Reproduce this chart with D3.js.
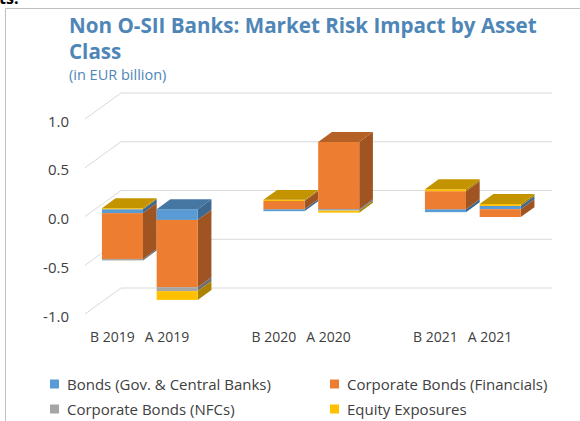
<!DOCTYPE html>
<html>
<head>
<meta charset="utf-8">
<script src="https://cdn.jsdelivr.net/npm/d3@7/dist/d3.min.js"></script>
<style>
  html, body { margin: 0; padding: 0; background: #fff; }
  svg { display: block; }
  text { font-family: "Open Sans", "Noto Sans", sans-serif; }
</style>
</head>
<body>
<svg id="chart" width="580" height="421"></svg>
<script>
// Data (EUR billion)
const groups = ["2019", "2020", "2021"];
const scenarios = ["B", "A"];
const categoryLabels = ["B 2019", "A 2019", "B 2020", "A 2020", "B 2021", "A 2021"];
const seriesNames = ["Bonds (Gov. & Central Banks)", "Corporate Bonds (Financials)",
                     "Corporate Bonds (NFCs)", "Equity Exposures"];
const seriesColors = ["#5B9BD5", "#ED7D31", "#A5A5A5", "#FFC000"];
const bondsGov   = [-0.04, -0.11, -0.02, -0.01, -0.03,  0.034];
const corpFin    = [-0.47, -0.69,  0.085, 0.69,  0.185, -0.08];
const corpNfc    = [-0.015,-0.04,  0.0,  -0.005, 0.0,   0.0];
const equity     = [ 0.01, -0.09,  0.012, -0.02, 0.02,  0.02];
const yTicks = [-1.0, -0.5, 0.0, 0.5, 1.0];
const yTickLabels = ["-1.0", "-0.5", "0.0", "0.5", "1.0"];

const svg = d3.select("#chart");

// frame lines
svg.append("line").attr("x1", 5.5).attr("x2", 580).attr("y1", 8.5).attr("y2", 8.5)
  .attr("stroke", "#bfbfbf");
svg.append("line").attr("x1", 5.5).attr("x2", 5.5).attr("y1", 8.5).attr("y2", 421)
  .attr("stroke", "#bfbfbf");
svg.append("text").attr("x", -1).attr("y", 4).attr("font-weight", "bold")
  .attr("font-size", 16).attr("fill", "#000").text("ts.");

// title
const titleColor = "#4F86B8";
svg.append("text").attr("x", 69).attr("y", 33).attr("font-size", 20.6)
  .attr("font-weight", "bold").attr("fill", titleColor)
  .text("Non O-SII Banks: Market Risk Impact by Asset");
svg.append("text").attr("x", 69).attr("y", 59).attr("font-size", 20.6)
  .attr("font-weight", "bold").attr("fill", titleColor).text("Class");
svg.append("text").attr("x", 69).attr("y", 80).attr("font-size", 14.5)
  .attr("fill", titleColor).text("(in EUR billion)");

// 3D projection: depth 0 = front plane, 1 = back wall
const depthDx = 36, depthDy = -26;
const barFront = 0.28, barDepth = 0.38;

const y = d3.scaleLinear().domain([-1, 1]).range([314, 119]);   // front plane
const x0 = d3.scaleBand().domain(groups).range([59, 543.5]);
const x1 = d3.scaleBand().domain(scenarios).range([0, x0.bandwidth()])
  .paddingInner(0.25).paddingOuter(0.6);
const plotLeft = 85, plotRight = 516;

// gridlines: side wall diagonal + back wall line
const grid = svg.append("g");
yTicks.forEach(v => {
  const yf = y(v);
  grid.append("path")
    .attr("d", `M${plotLeft},${yf}L${plotLeft + depthDx},${yf + depthDy}L${plotRight + depthDx},${yf + depthDy}`)
    .attr("fill", "none").attr("stroke", "#d9d9d9").attr("stroke-width", 1);
});

// y-axis labels
svg.append("g").selectAll("text").data(yTicks).join("text")
  .attr("x", 69).attr("y", d => y(d)).attr("dy", 7.5)
  .attr("text-anchor", "end").attr("font-size", 15).attr("fill", "#404040")
  .text((d, i) => yTickLabels[i]);

// stacked data
const rows = categoryLabels.map((lab, i) => ({
  label: lab, group: groups[Math.floor(i / 2)], scen: scenarios[i % 2],
  s0: bondsGov[i], s1: corpFin[i], s2: corpNfc[i], s3: equity[i]
}));
const stack = d3.stack().keys(["s0", "s1", "s2", "s3"]).offset(d3.stackOffsetDiverging);
const stacked = stack(rows);

const bdx = depthDx * barDepth, bdy = depthDy * barDepth;
const offX = depthDx * barFront, offY = depthDy * barFront;
const bw = x1.bandwidth();

const bars = svg.append("g");
rows.forEach((r, i) => {
  const left = x0(r.group) + x1(r.scen) + offX;
  const right = left + bw;
  const segs = stacked.map((s, k) => {
    const a = s[i][0], b = s[i][1];
    return { k, top: y(Math.max(a, b)) + offY, bot: y(Math.min(a, b)) + offY, h: Math.abs(b - a) };
  }).filter(d => d.h > 0);
  const g = bars.append("g");
  segs.forEach(d => {
    const c = d3.color(seriesColors[d.k]);
    g.append("path")
      .attr("d", `M${right},${d.top}L${right + bdx},${d.top + bdy}L${right + bdx},${d.bot + bdy}L${right},${d.bot}Z`)
      .attr("fill", c.darker(1.1));
    g.append("rect").attr("x", left).attr("y", d.top).attr("width", bw)
      .attr("height", Math.max(0, d.bot - d.top)).attr("fill", c);
  });
  const topSeg = segs.reduce((m, d) => d.top < m.top ? d : m, segs[0]);
  g.append("path")
    .attr("d", `M${left},${topSeg.top}L${right},${topSeg.top}L${right + bdx},${topSeg.top + bdy}L${left + bdx},${topSeg.top + bdy}Z`)
    .attr("fill", d3.color(seriesColors[topSeg.k]).darker(0.75));
});

// category labels at the front plane
svg.append("g").selectAll("text").data(rows).join("text")
  .attr("x", d => x0(d.group) + x1(d.scen) + bw / 2)
  .attr("y", 342).attr("text-anchor", "middle").attr("font-size", 14)
  .attr("fill", "#404040").text(d => d.label);

// legend
const legendPos = [[50, 384], [330, 384], [50, 409], [330, 409]];
const legend = svg.append("g").selectAll("g").data(seriesNames).join("g")
  .attr("transform", (d, i) => `translate(${legendPos[i][0]},${legendPos[i][1]})`);
legend.append("rect").attr("x", 0).attr("y", -4.5).attr("width", 9).attr("height", 9)
  .attr("fill", (d, i) => seriesColors[i]);
legend.append("text").attr("x", 17).attr("y", 5.5).attr("font-size", 15)
  .attr("fill", "#404040").text(d => d);
</script>
</body>
</html>
